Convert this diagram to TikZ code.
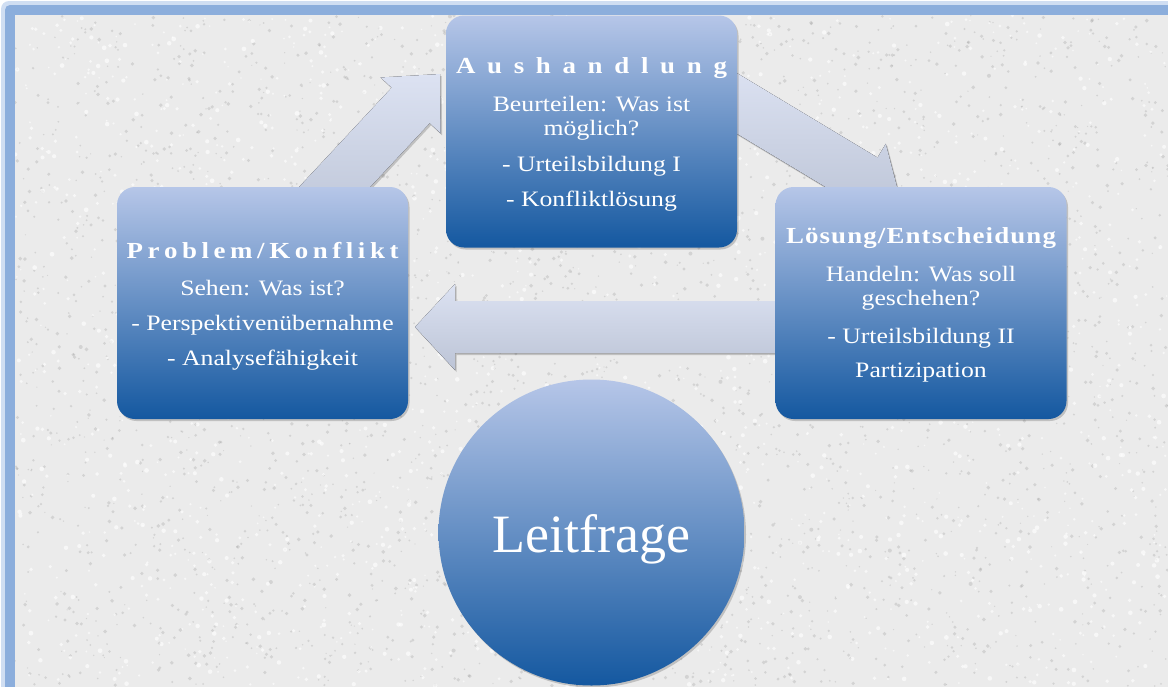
\documentclass[tikz,border=0pt]{standalone}
\usepackage{fontspec}
\setmainfont{Liberation Serif}[FakeStretch=1.17]
\newfontfamily\leitfont{Liberation Serif}
\usetikzlibrary{shadows}

\definecolor{boxtop}{RGB}{182,198,232}
\definecolor{boxbot}{RGB}{20,88,160}
\definecolor{arrtop}{RGB}{220,226,242}
\definecolor{arrbot}{RGB}{188,196,214}
\definecolor{framebl}{RGB}{140,174,220}
\definecolor{frameglow}{RGB}{208,222,242}
\definecolor{paper}{RGB}{235,235,235}
\definecolor{speck}{RGB}{140,140,140}

\tikzset{
  softshadow/.style={drop shadow={shadow xshift=1.5pt, shadow yshift=-2pt, opacity=0.18, fill=black}},
  stagebox/.style={rounded corners=18pt, minimum width=291pt, minimum height=232pt,
    inner sep=0pt, top color=boxtop, bottom color=boxbot, draw=none, softshadow},
  stagetext/.style={text=white, align=center, font=\fontsize{22}{24}\selectfont, inner sep=0pt},
  leitcircle/.style={circle, minimum size=306pt, inner sep=0pt, top color=boxtop,
    bottom color=boxbot, draw=none, text=white, font=\leitfont\fontsize{54}{60}\selectfont,
    text height=39pt, text depth=0pt, softshadow},
  blockarrow/.style={top color=arrtop, bottom color=arrbot, draw=none, softshadow},
}
\newcommand\headsize{\fontsize{23}{24}\selectfont\bfseries}

\begin{document}
\begin{tikzpicture}[x=1pt,y=-1pt]
  \useasboundingbox (0,0) rectangle (1168,686);
  % frame and paper
  \fill[white] (0,0) rectangle (1168,686);
  \fill[frameglow, rounded corners=8pt] (1,1) rectangle (1200,720);
  \fill[framebl, rounded corners=5pt] (5,5) rectangle (1200,720);
  \fill[paper] (15,15) rectangle (1200,720);
  \begin{scope}
    \clip (15,15) rectangle (1200,720);
    \pgfmathsetseed{7}
    \foreach \i in {1,...,3400}{
      \pgfmathsetmacro\rx{15+rnd*1153}
      \pgfmathsetmacro\ry{15+rnd*671}
      \pgfmathsetmacro\rs{0.6+rnd*1.4}
      \fill[speck, opacity=0.25] (\rx,\ry) circle (\rs pt);
    }
    \foreach \i in {1,...,2000}{
      \pgfmathsetmacro\rx{15+rnd*1153}
      \pgfmathsetmacro\ry{15+rnd*671}
      \pgfmathsetmacro\rs{0.8+rnd*1.6}
      \fill[white, opacity=0.6] (\rx,\ry) circle (\rs pt);
    }
  \end{scope}

  % arrow tips
  \coordinate (tipA) at (440,74);
  \coordinate (tipB) at (901,202);
  \coordinate (tipC) at (415,327);
  \tikzset{atA/.style={shift={(tipA)},rotate=47},
           atB/.style={shift={(tipB)},rotate=-31},
           atC/.style={shift={(tipC)},rotate=180}}

  % block arrows
  \fill[blockarrow] ([atA]0,0) -- ([atA]-43,41) -- ([atA]-43,26) -- ([atA]-190,26)
     -- ([atA]-190,-26) -- ([atA]-43,-26) -- ([atA]-43,-41) -- cycle;
  \fill[blockarrow] ([atB]0,0) -- ([atB]-43,42) -- ([atB]-43,26) -- ([atB]-220,26)
     -- ([atB]-220,-26) -- ([atB]-43,-26) -- ([atB]-43,-42) -- cycle;
  \fill[blockarrow] ([atC]0,0) -- ([atC]-40,43) -- ([atC]-40,26) -- ([atC]-400,26)
     -- ([atC]-400,-26) -- ([atC]-40,-26) -- ([atC]-40,-43) -- cycle;

  % boxes
  \node[stagebox] (aus) at (591.5,131.5) {};
  \node[stagebox] (prob) at (262.5,303) {};
  \node[stagebox] (loes) at (921,303) {};

  \node[stagetext] (austext) at (591.5,134.5) {%
    {\headsize\makebox[271pt]{A\hfill u\hfill s\hfill h\hfill a\hfill n\hfill d\hfill l\hfill u\hfill n\hfill g}}\\[14pt]
    Beurteilen: Was ist\\
    möglich?\\[12pt]
    - Urteilsbildung I\\[11pt]
    - Konfliktlösung};

  \node[stagetext] (probtext) at (262.5,306) {%
    {\headsize\makebox[272pt]{P\hfill r\hfill o\hfill b\hfill l\hfill e\hfill m\hfill /\hfill K\hfill o\hfill n\hfill f\hfill l\hfill i\hfill k\hfill t}}\\[13pt]
    Sehen: Was ist?\\[11pt]
    - Perspektivenübernahme\\[11pt]
    - Analysefähigkeit};

  \node[stagetext] (loestext) at (921,305) {%
    {\headsize\makebox[270pt]{L\hfill ö\hfill s\hfill u\hfill n\hfill g\hfill /\hfill E\hfill n\hfill t\hfill s\hfill c\hfill h\hfill e\hfill i\hfill d\hfill u\hfill n\hfill g}}\\[14pt]
    Handeln: Was soll\\
    geschehen?\\[14pt]
    - Urteilsbildung II\\[10pt]
    Partizipation};

  % central circle
  \node[leitcircle] (leit) at (591.5,532.5) {Leitfrage};
\end{tikzpicture}
\end{document}
